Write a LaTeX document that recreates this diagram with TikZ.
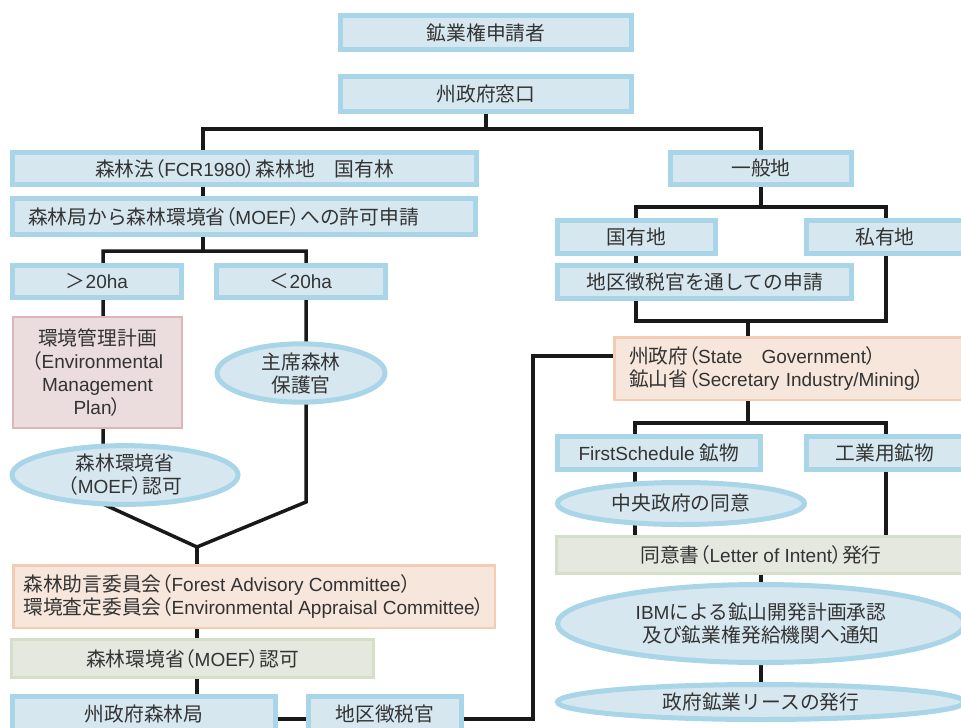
\documentclass[tikz,border=0pt]{standalone}
\usepackage{fontspec}
\setmainfont{Liberation Sans}
\newfontfamily\jfont{Noto Sans CJK JP}[Scale=1.04]
\newfontfamily\jpfont{Noto Sans CJK JP}[Scale=1.04,RawFeature=+palt]
\usetikzlibrary{positioning,shapes.geometric,backgrounds}

% Japanese runs switch to the CJK font by themselves
\newXeTeXintercharclass\jclass
\newXeTeXintercharclass\pclass
\newcount\cjkcode
\cjkcode="3000 \loop\ifnum\cjkcode<"3100 \XeTeXcharclass\cjkcode=\jclass \advance\cjkcode 1 \repeat
\cjkcode="4E00 \loop\ifnum\cjkcode<"A000 \XeTeXcharclass\cjkcode=\jclass \advance\cjkcode 1 \repeat
\cjkcode="FF00 \loop\ifnum\cjkcode<"FFF0 \XeTeXcharclass\cjkcode=\jclass \advance\cjkcode 1 \repeat
\XeTeXcharclass"FF08=\pclass
\XeTeXcharclass"FF09=\pclass
\XeTeXinterchartoks 0 \jclass = {\jfont}
\XeTeXinterchartoks 4095 \jclass = {\jfont}
\XeTeXinterchartoks \pclass \jclass = {\jfont}
\XeTeXinterchartoks 0 \pclass = {\jpfont}
\XeTeXinterchartoks 4095 \pclass = {\jpfont}
\XeTeXinterchartoks \jclass \pclass = {\jpfont}
\XeTeXinterchartoks \jclass 0 = {\rmfamily}
\XeTeXinterchartoks \pclass 0 = {\rmfamily}
\XeTeXinterchartokenstate=1

\definecolor{ink}{HTML}{333333}
\definecolor{boxfill}{HTML}{D7E7F0}
\definecolor{boxedge}{HTML}{A8D5E8}
\definecolor{planfill}{HTML}{EBDCDD}
\definecolor{planedge}{HTML}{DDB5B9}
\definecolor{boardfill}{HTML}{F6E6DC}
\definecolor{boardedge}{HTML}{F2CDB3}
\definecolor{grantfill}{HTML}{E4E8DF}
\definecolor{grantedge}{HTML}{D4DEC8}

\begin{document}
\begin{tikzpicture}[x=1pt,y=-1pt,font=\fontsize{19}{23}\selectfont,text=ink,
  box/.style={draw=boxedge,fill=boxfill,line width=5pt,inner sep=0pt,align=center},
  oval/.style={box,ellipse},
  plan/.style={draw=planedge,fill=planfill,line width=2pt,inner sep=0pt,align=center},
  board/.style={draw=boardedge,fill=boardfill,line width=2.5pt,inner sep=0pt,align=left},
  grant/.style={draw=grantedge,fill=grantfill,line width=3pt,inner sep=0pt,align=center},
  link/.style={line width=3.5pt,black!90}]
\useasboundingbox (0,0) rectangle (961,728);
% top
\node[box,minimum width=291pt,minimum height=34pt] (apply) at (486,32.5) {鉱業権申請者};
\node[box,minimum width=291pt,minimum height=35pt,below=22pt of apply] (window) {州政府窓口};
% forest land
\node[box,minimum width=464pt,minimum height=32pt] (forest) at (244.5,168.5) {森林法（FCR1980）森林地\hspace{1em}国有林};
\node[box,minimum width=463pt,minimum height=36pt,text width=432pt,align=left] (permit) at (244,216.5) {森林局から森林環境省（MOEF）への許可申請};
\node[box,minimum width=169pt,minimum height=32pt] (big) at (97,281.5) {＞20ha};
\node[box,minimum width=169pt,minimum height=32pt] (small) at (301,281.5) {＜20ha};
\node[plan,minimum width=169pt,minimum height=111pt] (emp) at (97.5,372.5) {環境管理計画\\（Environmental\\Management\\Plan）};
\node[oval,minimum width=168pt,minimum height=57pt] (officer) at (301,373) {主席森林\\保護官};
\node[oval,minimum width=226pt,minimum height=54pt] (moef1) at (125,475) {森林環境省\\（MOEF）認可};
\node[board,minimum width=481.5pt,minimum height=62.5pt] (fac) at (254,596.5) {森林助言委員会（Forest Advisory Committee）\\環境査定委員会（Environmental Appraisal Committee）};
\node[grant,minimum width=362pt,minimum height=38pt] (moef2) at (192.5,658.5) {森林環境省（MOEF）認可};
\node[box,minimum width=263pt,minimum height=35pt] (sfd) at (144,714) {州政府森林局};
\node[box,minimum width=153pt,minimum height=35pt] (dco) at (385,714) {地区徴税官};
% general land
\node[box,minimum width=181pt,minimum height=32pt] (general) at (761,168.5) {一般地};
\node[box,minimum width=158pt,minimum height=33pt] (state) at (636.5,237) {国有地};
\node[box,minimum width=157pt,minimum height=33pt] (private) at (885,237) {私有地};
\node[box,minimum width=294pt,minimum height=33pt] (viadco) at (704.5,282) {地区徴税官を通しての申請};
\node[board,minimum width=351.5pt,minimum height=62.5pt,text width=322pt] (sgov) at (790,368.5) {州政府（State\hspace{1em}Government）\\鉱山省（Secretary Industry/Mining）};
\node[box,minimum width=203pt,minimum height=33pt] (first) at (659,453) {FirstSchedule 鉱物};
\node[box,minimum width=157pt,minimum height=33pt] (indus) at (885,453) {工業用鉱物};
\node[oval,minimum width=247pt,minimum height=42pt] (consent) at (681,503.5) {中央政府の同意};
\node[grant,minimum width=409pt,minimum height=37pt] (loi) at (761,555) {同意書（Letter of Intent）発行};
\node[oval,minimum width=407pt,minimum height=78pt] (ibm) at (761,623.5) {IBMによる鉱山開発計画承認\\及び鉱業権発給機関へ通知};
\node[oval,minimum width=407pt,minimum height=35pt] (lease) at (761,702) {政府鉱業リースの発行};
% connectors
\begin{scope}[on background layer]
\coordinate (a1) at (203,129);
\coordinate (a2) at (203,251);
\coordinate (b1) at (103,251);
\coordinate (b2) at (306,251);
\coordinate (vl) at (103,504);
\coordinate (vr) at (306,502);
\coordinate (v) at (197,547);
\coordinate (w1) at (533,719);
\coordinate (w2) at (533,356);
\coordinate (g1l) at (636,207);
\coordinate (g1r) at (886,207);
\coordinate (h1l) at (636,321);
\coordinate (h1r) at (886,321);
\coordinate (k1) at (748,321);
\coordinate (k2) at (748,423);
\coordinate (m1l) at (635,423);
\coordinate (m1r) at (886,423);
\coordinate (n1l) at (635,555);
\coordinate (n1r) at (886,555);
\draw[link] (window) -- (window |- a1);
\draw[link] (a2) -- (a1) -| (general);
\draw[link] (vl) -- (b1) -- (b2) -- (vr) -- (v) -- cycle;
\draw[link] (v) -- (sfd -| v);
\draw[link] (sfd.east |- w1) -- (w1) -- (w2) -- (sgov.west |- w2);
\draw[link] (general) -- (general |- g1l);
\draw[link] (g1l) -- (g1r) -- (h1r) -- (h1l) -- cycle;
\draw[link] (k1) -- (k2);
\draw[link] (m1l) -- (m1r) -- (n1r) -- (n1l) -- cycle;
\draw[link] (loi) -- (lease);
\end{scope}
\end{tikzpicture}
\end{document}
